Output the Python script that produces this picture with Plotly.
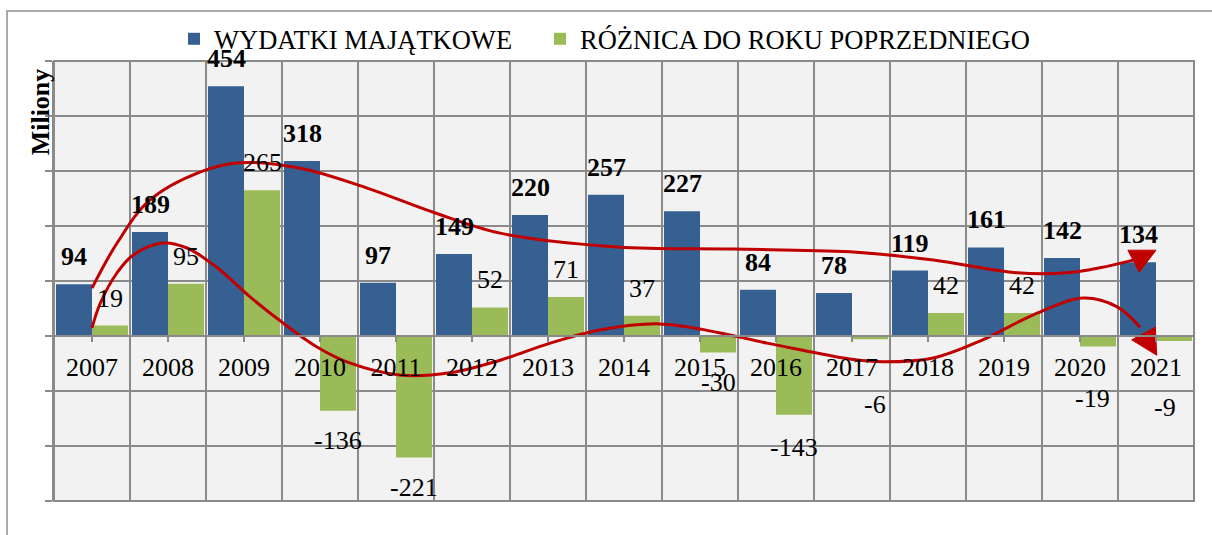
import plotly.graph_objects as go

# Data (mln zł)
years = [2007, 2008, 2009, 2010, 2011, 2012, 2013, 2014, 2015, 2016, 2017, 2018, 2019, 2020, 2021]
year_labels = [str(y) for y in years]
wydatki = [94, 189, 454, 318, 97, 149, 220, 257, 227, 84, 78, 119, 161, 142, 134]
roznica = [19, 95, 265, -136, -221, 52, 71, 37, -30, -143, -6, 42, 42, -19, -9]

# Hand-drawn trend arrows: waypoints as (year, value)
trend_upper = [(2007.00, 87), (2007.33, 169), (2007.76, 247), (2008.42, 298), (2008.95, 315),
               (2009.74, 305), (2010.62, 269), (2011.49, 225), (2012.37, 187), (2013.91, 162),
               (2015.43, 158), (2016.97, 153), (2018.07, 138), (2019.17, 115), (2019.83, 115),
               (2020.26, 124), (2020.70, 138)]
head_upper = [(2020.63, 156), (2021.00, 156), (2020.78, 116)]
trend_lower = [(2007.00, 15), (2007.11, 60), (2007.33, 115), (2007.54, 147), (2007.93, 169),
               (2008.25, 160), (2008.64, 125), (2009.08, 71), (2009.51, 24), (2009.96, -20),
               (2010.39, -49), (2011.05, -71), (2011.71, -67), (2012.37, -44), (2013.03, -13),
               (2013.68, 11), (2014.47, 22), (2015.22, 7), (2015.88, -13), (2016.32, -25),
               (2016.97, -42), (2017.41, -47), (2018.07, -40), (2018.72, -7), (2019.38, 38),
               (2020.04, 69), (2020.49, 53), (2020.79, 16)]
head_lower = [(2020.68, -7), (2020.99, 16), (2021.01, -35)]

BLUE = "#366092"
GREEN = "#9BBB59"
RED = "#C00000"
GRID = "#8A8A8A"
FONT = "Liberation Serif, Times New Roman, serif"

fig = go.Figure()
fig.add_bar(x=years, y=wydatki, name="WYDATKI MAJĄTKOWE", marker_color=BLUE, marker_line_width=0,
            legend="legend")
fig.add_bar(x=years, y=roznica, name="RÓŻNICA DO ROKU POPRZEDNIEGO", marker_color=GREEN,
            marker_line_width=0, legend="legend2")

for pts in (trend_upper, trend_lower):
    fig.add_scatter(x=[p[0] for p in pts], y=[p[1] for p in pts], mode="lines",
                    line=dict(color=RED, width=3, shape="spline", smoothing=1.0),
                    showlegend=False, hoverinfo="skip")
for pts in (head_upper, head_lower):
    fig.add_scatter(x=[p[0] for p in pts] + [pts[0][0]], y=[p[1] for p in pts] + [pts[0][1]],
                    mode="lines", fill="toself", fillcolor=RED, line=dict(color=RED, width=1),
                    showlegend=False, hoverinfo="skip")

annotations = []
# value labels above/below bars
for yr, v in zip(years, wydatki):
    annotations.append(dict(x=yr, y=v, xshift=-18, yshift=11, text=f"<b>{v}</b>",
                            showarrow=False, yanchor="bottom",
                            font=dict(family=FONT, size=26, color="black")))
# extra drop (px) for small negative labels pushed below the category labels
neg_drop = {2016: 3, 2017: 36, 2020: 23, 2021: 37}
neg_dx = {2017: 5, 2020: -6, 2021: -9}
for yr, v in zip(years, roznica):
    if v >= 0:
        annotations.append(dict(x=yr, y=v, xshift=18, yshift=11, text=str(v), showarrow=False,
                                yanchor="bottom", font=dict(family=FONT, size=26, color="black")))
    else:
        annotations.append(dict(x=yr, y=v, xshift=18 + neg_dx.get(yr, 0),
                                yshift=-13 - neg_drop.get(yr, 0), text=str(v),
                                showarrow=False, yanchor="top",
                                font=dict(family=FONT, size=26, color="black")))
annotations.append(dict(xref="paper", yref="paper", x=-0.012, y=0.884, text="<b>Miliony</b>",
                        textangle=-90, showarrow=False, xanchor="center", yanchor="middle",
                        font=dict(family=FONT, size=26, color="black")))

shapes = [
    # plot frame
    dict(type="rect", xref="paper", yref="paper", x0=0, x1=1, y0=0, y1=1,
         line=dict(color=GRID, width=2), layer="below"),
    # outer chart border
    dict(type="rect", xref="paper", yref="paper", x0=-0.0412, x1=1.2, y0=-0.3, y1=1.1136,
         line=dict(color="#8F8F8F", width=1.5), layer="below"),
]

legend_style = dict(orientation="h", xanchor="left", xref="container",
                    y=0.927, yanchor="middle", yref="container",
                    font=dict(family=FONT, size=26.5, color="black"),
                    bgcolor="rgba(0,0,0,0)", itemwidth=30)

fig.update_layout(
    width=1212, height=535,
    margin=dict(l=54, r=18, t=61, b=34, autoexpand=False),
    paper_bgcolor="white", plot_bgcolor="#F2F2F2",
    barmode="group", bargap=0.053, bargroupgap=0,
    font=dict(family=FONT, size=26, color="black"),
    legend=dict(x=174 / 1212, **legend_style),
    legend2=dict(x=540 / 1212, **legend_style),
    annotations=annotations, shapes=shapes,
    xaxis=dict(range=[2006.5, 2021.5], tickvals=years, ticktext=year_labels,
               showgrid=False, zeroline=False, anchor="free", position=0.375,
               showline=True, linecolor=GRID, linewidth=2, automargin=False,
               ticks="outside", ticklen=5, tickcolor=GRID, tickwidth=2,
               tickfont=dict(family=FONT, size=26, color="black"), ticklabelstandoff=3,
               minor=dict(tick0=2006.5, dtick=1, showgrid=True, gridcolor=GRID, gridwidth=2,
                          ticks="")),
    yaxis=dict(range=[-300, 500], dtick=100, showticklabels=False, showgrid=True,
               gridcolor=GRID, gridwidth=2, zeroline=False, showline=True, linecolor=GRID,
               linewidth=2, ticks="outside", ticklen=7, tickcolor=GRID, tickwidth=2,
               automargin=False),
)

fig.write_html("out.html")
